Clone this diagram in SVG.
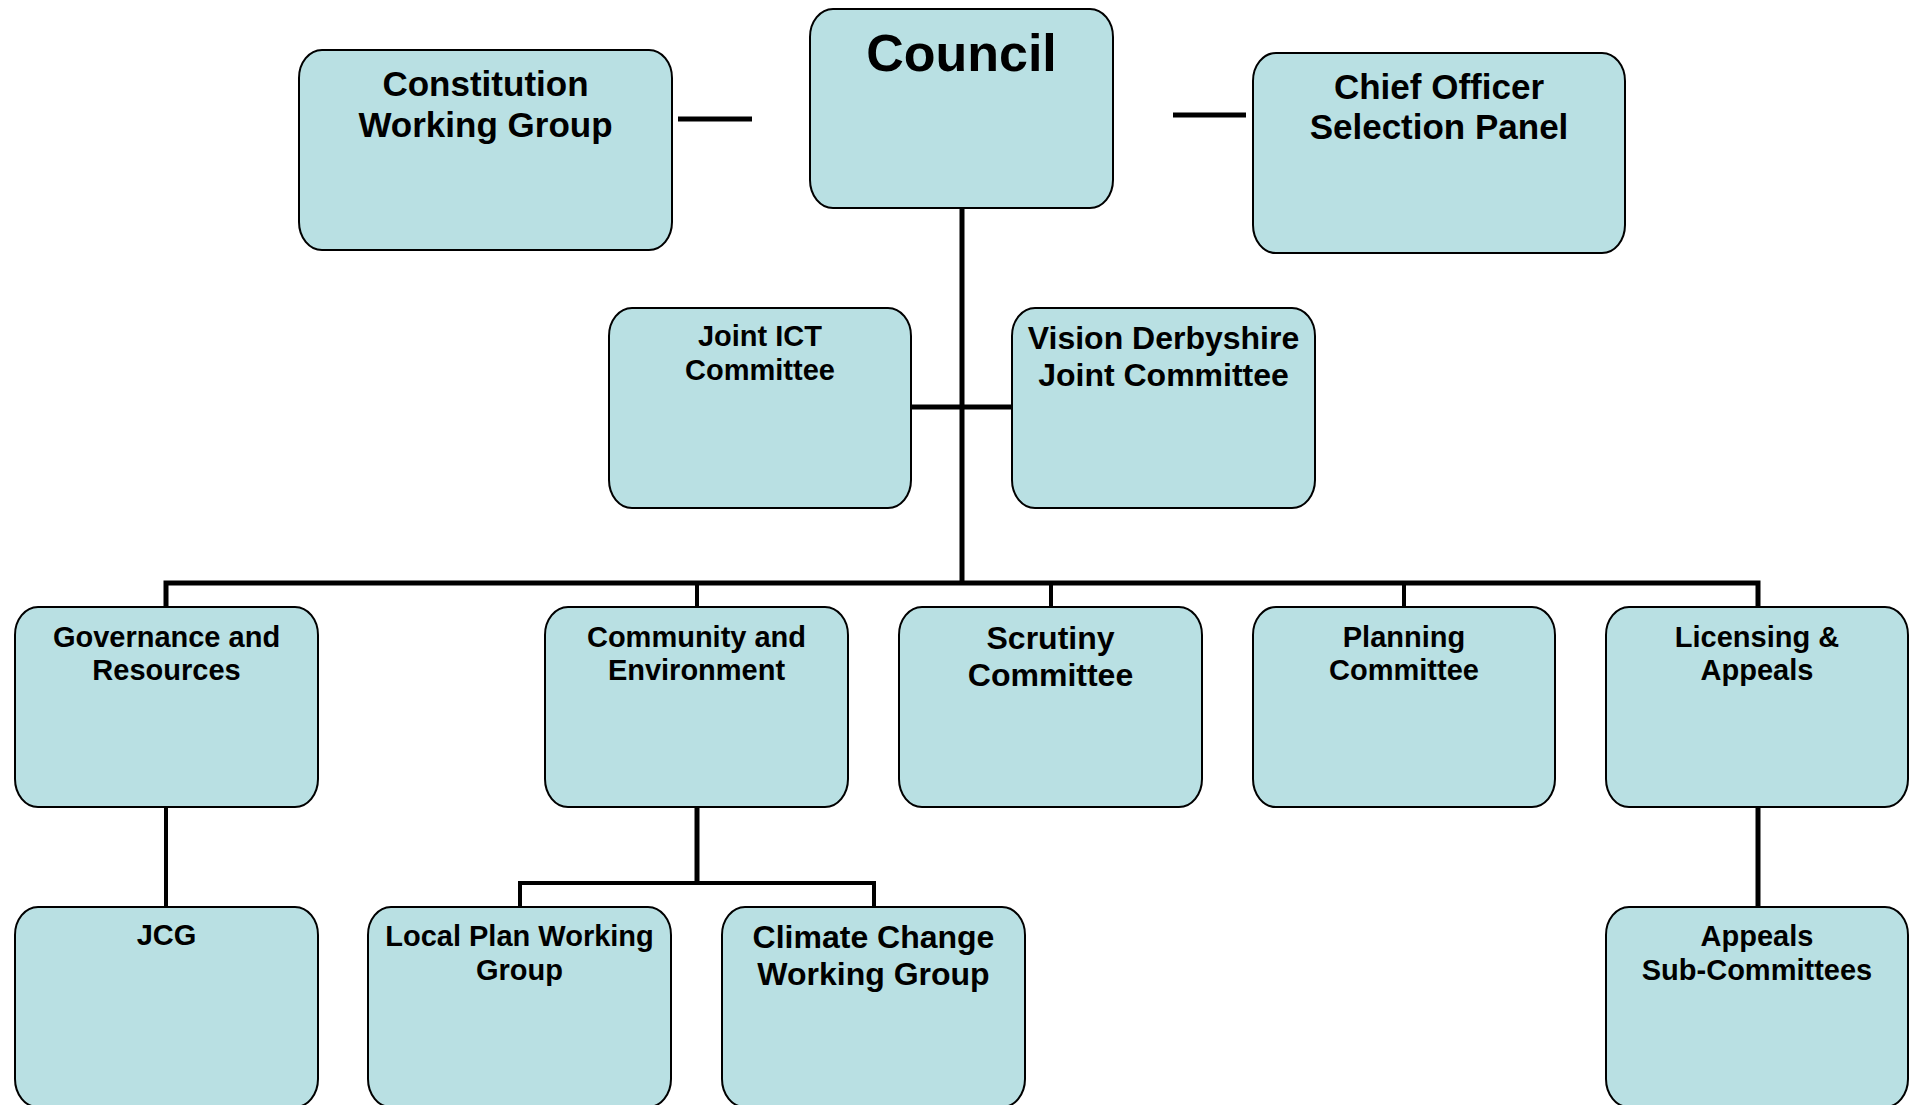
<svg xmlns="http://www.w3.org/2000/svg" width="1909" height="1105" viewBox="0 0 1909 1105">
<style>
.box{fill:#b9e0e3;stroke:#000;stroke-width:2}
.t{font-family:"Liberation Sans",Arial,sans-serif;font-weight:bold;fill:#000;text-anchor:middle}
.c{fill:none;stroke:#000;stroke-width:5}
.d{fill:none;stroke:#000;stroke-width:4}
</style>
<rect width="1909" height="1105" fill="#fff"/>
<g id="connectors">
<line class="c" x1="678" y1="119" x2="752" y2="119" stroke-width="6"/>
<line class="c" x1="1173" y1="115" x2="1246" y2="115" stroke-width="6"/>
<line class="c" x1="962" y1="208" x2="962" y2="583"/>
<line class="c" x1="911" y1="407" x2="1012" y2="407"/>
<path class="c" d="M166 607 V583 H1758 V607"/>
<line class="d" x1="697" y1="583" x2="697" y2="607"/>
<line class="d" x1="1051" y1="583" x2="1051" y2="607"/>
<line class="d" x1="1404" y1="583" x2="1404" y2="607"/>
<line class="d" x1="166" y1="807" x2="166" y2="907"/>
<line class="c" x1="697" y1="807" x2="697" y2="883"/>
<path class="d" d="M520 907 V883 H874 V907"/>
<line class="c" x1="1758" y1="807" x2="1758" y2="907"/>
</g>
<g id="constitution"><rect class="box" x="299" y="50" width="373" height="200" rx="23" ry="28"/><text class="t" x="485.5" y="96" font-size="35">Constitution</text><text class="t" x="485.5" y="137" font-size="35">Working Group</text></g>
<g id="council"><rect class="box" x="810" y="9" width="303" height="199" rx="23" ry="28"/><text class="t" x="961.5" y="71" font-size="52">Council</text></g>
<g id="chief-officer"><rect class="box" x="1253" y="53" width="372" height="200" rx="23" ry="28"/><text class="t" x="1439" y="99" font-size="35">Chief Officer</text><text class="t" x="1439" y="139" font-size="35">Selection Panel</text></g>
<g id="joint-ict"><rect class="box" x="609" y="308" width="302" height="200" rx="23" ry="28"/><text class="t" x="760" y="346" font-size="29">Joint ICT</text><text class="t" x="760" y="380" font-size="29">Committee</text></g>
<g id="vision-derbyshire"><rect class="box" x="1012" y="308" width="303" height="200" rx="23" ry="28"/><text class="t" x="1163.5" y="349" font-size="32">Vision Derbyshire</text><text class="t" x="1163.5" y="386" font-size="32">Joint Committee</text></g>
<g id="governance"><rect class="box" x="15" y="607" width="303" height="200" rx="23" ry="28"/><text class="t" x="166.5" y="647" font-size="29">Governance and</text><text class="t" x="166.5" y="680" font-size="29">Resources</text></g>
<g id="community"><rect class="box" x="545" y="607" width="303" height="200" rx="23" ry="28"/><text class="t" x="696.5" y="647" font-size="29">Community and</text><text class="t" x="696.5" y="680" font-size="29">Environment</text></g>
<g id="scrutiny"><rect class="box" x="899" y="607" width="303" height="200" rx="23" ry="28"/><text class="t" x="1050.5" y="649" font-size="32">Scrutiny</text><text class="t" x="1050.5" y="686" font-size="32">Committee</text></g>
<g id="planning"><rect class="box" x="1253" y="607" width="302" height="200" rx="23" ry="28"/><text class="t" x="1404" y="647" font-size="29">Planning</text><text class="t" x="1404" y="680" font-size="29">Committee</text></g>
<g id="licensing"><rect class="box" x="1606" y="607" width="302" height="200" rx="23" ry="28"/><text class="t" x="1757" y="647" font-size="29">Licensing &amp;</text><text class="t" x="1757" y="680" font-size="29">Appeals</text></g>
<g id="jcg"><rect class="box" x="15" y="907" width="303" height="200" rx="23" ry="28"/><text class="t" x="166.5" y="945" font-size="29">JCG</text></g>
<g id="local-plan"><rect class="box" x="368" y="907" width="303" height="200" rx="23" ry="28"/><text class="t" x="519.5" y="946" font-size="29">Local Plan Working</text><text class="t" x="519.5" y="980" font-size="29">Group</text></g>
<g id="climate-change"><rect class="box" x="722" y="907" width="303" height="200" rx="23" ry="28"/><text class="t" x="873.5" y="948" font-size="32">Climate Change</text><text class="t" x="873.5" y="985" font-size="32">Working Group</text></g>
<g id="appeals"><rect class="box" x="1606" y="907" width="302" height="200" rx="23" ry="28"/><text class="t" x="1757" y="946" font-size="29">Appeals</text><text class="t" x="1757" y="980" font-size="29">Sub-Committees</text></g>
</svg>
